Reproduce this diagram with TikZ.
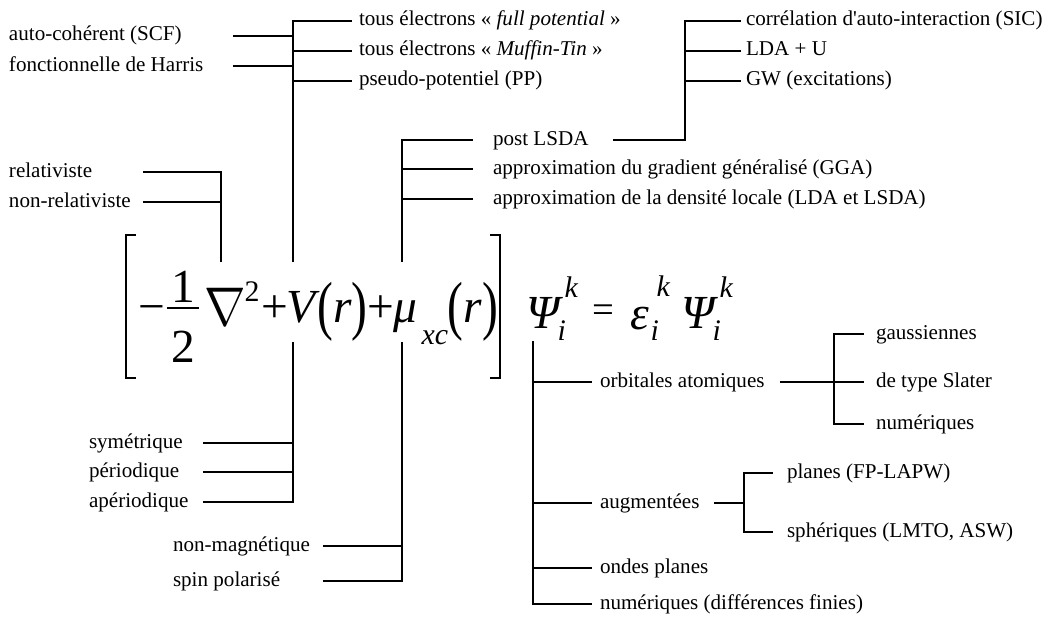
\RequirePackage{fix-cm}
\documentclass[tikz,border=0pt]{standalone}
\usepackage{fontspec}
\setmainfont{Liberation Serif}
\usepackage{graphicx}

\newcommand{\tallpar}[1]{\scalebox{1}[1.375]{#1}}

\begin{document}
\begin{tikzpicture}[x=0.02cm, y=-0.02cm, line width=0.6pt,
    lbl/.style={anchor=west, inner ysep=0pt, outer sep=0pt, text height=7.7pt, text depth=2pt, font=\fontsize{12}{14}\selectfont},
    leftlbl/.style={lbl, inner xsep=0pt, text width=#1, align=flush left},
    rightlbl/.style={lbl, inner xsep=#1},
    eqrm/.style={anchor=base west, inner sep=0pt, font=\fontsize{27}{27}\selectfont},
    eqit/.style={eqrm, font=\fontsize{27}{27}\selectfont\itshape},
    idxrm/.style={anchor=base west, inner sep=0pt, font=\fontsize{17}{17}\selectfont},
    idx/.style={idxrm, font=\fontsize{17}{17}\selectfont\itshape}]
    \useasboundingbox (0,0) rectangle (1053,617);

    % Kohn-Sham equation
    \node[eqrm] (minus) at (138,323) {−};
    \node[eqrm] (one) at (171,303) {1};
    \node[eqrm] (two) at (171,363) {2};
    \draw[line width=1.1pt] (167,308) -- (199,308);
    \node[eqrm] (nabla) at (204,326) {\scalebox{1.05}[1.15]{$\nabla$}};
    \node[idxrm] (sq) at (244,302) {2};
    \node[eqrm] (plusA) at (261,323) {+};
    \node[eqit] (V) at (286,323) {V};
    \node[eqrm] (lpA) at (317,328) {\tallpar{(}};
    \node[eqit] (rA) at (333,323) {r};
    \node[eqrm] (rpA) at (351,328) {\tallpar{)}};
    \node[eqrm] (plusB) at (367,323) {+};
    \node[eqit] (mu) at (393,323) {μ};
    \node[idx] (xc) at (421,345) {xc};
    \node[eqrm] (lpB) at (447,328) {\tallpar{(}};
    \node[eqit] (rB) at (463,323) {r};
    \node[eqrm] (rpB) at (482,328) {\tallpar{)}};
    \node[eqit] (psiA) at (526,329) {Ψ};
    \node[idx] (kA) at (564,298) {k};
    \node[idx] (iA) at (557,341) {i};
    \node[eqrm, font=\fontsize{22}{22}\selectfont] (equal) at (592,323) {=};
    \node[eqit] (eps) at (630,330) {ε};
    \node[idx] (kB) at (656,297) {k};
    \node[idx] (iB) at (650,341) {i};
    \node[eqit] (psiB) at (681,329) {Ψ};
    \node[idx] (kC) at (719,298) {k};
    \node[idx] (iC) at (712,341) {i};

    % Brackets
    \draw[line width=1.6pt] (136,235) -- (126,235) -- (126,378) -- (136,378);
    \draw[line width=1.6pt] (490,235) -- (500,235) -- (500,378) -- (490,378);

    % Branch points on the equation
    \coordinate (Nup) at (221,262);
    \coordinate (Vup) at (293,262);
    \coordinate (Vdn) at (293,342);
    \coordinate (Mup) at (402,262);
    \coordinate (Mdn) at (402,342);
    \coordinate (Pdn) at (533,341);
    \coordinate (sicJ) at (685,21);
    \coordinate (orbJ) at (834,382);
    \coordinate (augJ) at (744,503);

    % Labels above
    \node[leftlbl=4.48cm] (scf) at (9,36) {auto-cohérent (SCF)};
    \node[leftlbl=4.48cm] (harris) at (9,66) {fonctionnelle de Harris};
    \node[rightlbl=0.14cm] (full) at (352,21) {tous électrons « \textit{full potential} »};
    \node[rightlbl=0.14cm] (muffin) at (352,51) {tous électrons « \textit{Muffin-Tin} »};
    \node[rightlbl=0.14cm] (pp) at (352,81) {pseudo-potentiel (PP)};
    \node[rightlbl=0.1cm] (sic) at (741,21) {corrélation d\textquotesingle auto-interaction (SIC)};
    \node[rightlbl=0.1cm] (ldau) at (741,51) {LDA + U};
    \node[rightlbl=0.1cm] (gw) at (741,81) {GW (excitations)};
    \node[leftlbl=2.68cm] (rel) at (9,172) {relativiste};
    \node[leftlbl=2.68cm] (nonrel) at (9,202) {non-relativiste};
    \node[rightlbl=0.4cm, text width=2.0cm, align=flush left] (post) at (473,140) {post LSDA};
    \node[rightlbl=0.4cm] (gga) at (473,169) {approximation du gradient généralisé (GGA)};
    \node[rightlbl=0.4cm] (lda) at (473,199) {approximation de la densité locale (LDA et LSDA)};

    % Labels below
    \node[leftlbl=2.28cm] (sym) at (89,443) {symétrique};
    \node[leftlbl=2.28cm] (per) at (89,472) {périodique};
    \node[leftlbl=2.28cm] (aper) at (89,502) {apériodique};
    \node[leftlbl=3.0cm] (nonmag) at (173,546) {non-magnétique};
    \node[leftlbl=3.0cm] (spin) at (173,581) {spin polarisé};
    \node[rightlbl=0.16cm, text width=3.44cm, align=flush left] (orb) at (592,382) {orbitales atomiques};
    \node[rightlbl=0.16cm, text width=2.12cm, align=flush left] (aug) at (592,503) {augmentées};
    \node[rightlbl=0.16cm] (pw) at (592,568) {ondes planes};
    \node[rightlbl=0.16cm] (num) at (592,604) {numériques (différences finies)};
    \node[rightlbl=0.24cm] (gauss) at (864,334) {gaussiennes};
    \node[rightlbl=0.24cm] (slater) at (864,382) {de type Slater};
    \node[rightlbl=0.24cm] (numer) at (864,424) {numériques};
    \node[rightlbl=0.28cm] (planes) at (773,473) {planes (FP-LAPW)};
    \node[rightlbl=0.28cm] (spher) at (773,532) {sphériques (LMTO, ASW)};

    % Connectors V(r)
    \draw (scf) -- (scf -| Vup);
    \draw (harris) -- (harris -| Vup);
    \draw (Vup) |- (full);
    \draw (Vup |- muffin) -- (muffin);
    \draw (Vup |- pp) -- (pp);
    \draw (sym) -- (sym -| Vdn);
    \draw (per) -- (per -| Vdn);
    \draw (aper) -| (Vdn);

    % Connectors nabla
    \draw (rel) -| (Nup);
    \draw (nonrel) -- (nonrel -| Nup);

    % Connectors mu_xc
    \draw (Mup) |- (post);
    \draw (Mup |- gga) -- (gga);
    \draw (Mup |- lda) -- (lda);
    \draw (post) -| (sicJ) -- (sic);
    \draw (sicJ |- ldau) -- (ldau);
    \draw (sicJ |- gw) -- (gw);
    \draw (nonmag) -- (nonmag -| Mdn);
    \draw (spin) -| (Mdn);

    % Connectors Psi
    \draw (Pdn) |- (num);
    \draw (Pdn |- orb) -- (orb);
    \draw (Pdn |- aug) -- (aug);
    \draw (Pdn |- pw) -- (pw);
    \draw (orb) -- (slater);
    \draw (gauss) -| (orbJ) |- (numer);
    \draw (aug) -- (augJ);
    \draw (planes) -| (augJ) |- (spher);
\end{tikzpicture}
\end{document}
